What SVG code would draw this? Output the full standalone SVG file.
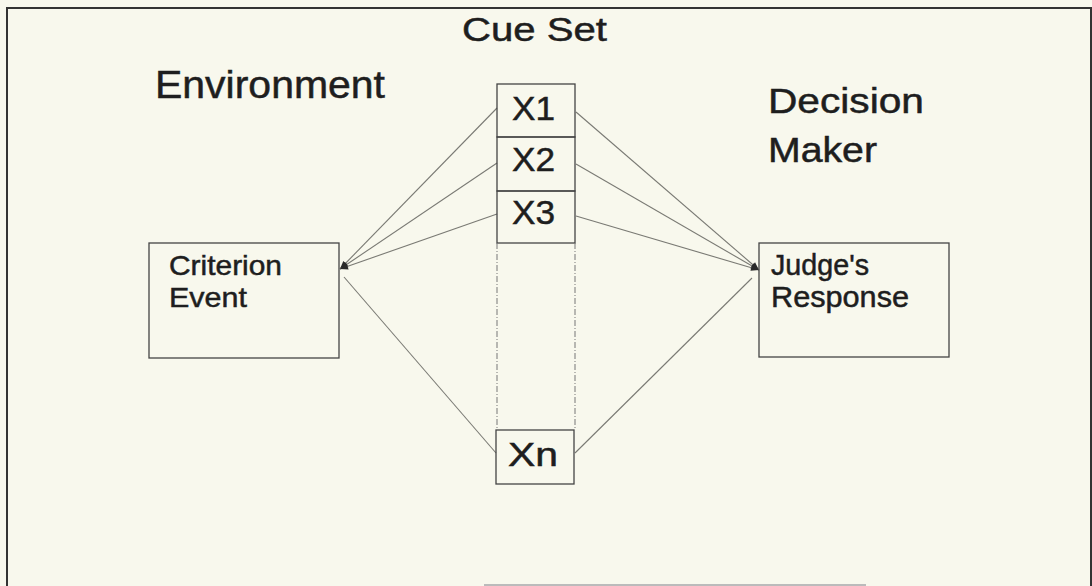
<svg xmlns="http://www.w3.org/2000/svg" width="1092" height="586" viewBox="0 0 1092 586">
  <defs>
    <marker id="ah" viewBox="0 0 10 10" refX="10" refY="5" markerWidth="9" markerHeight="8" markerUnits="userSpaceOnUse" orient="auto">
      <path d="M0,1 L10,5 L0,9 Z" fill="#2a2a2a"/>
    </marker>
    <style>
      .t { font-family: "Liberation Sans", Arial, Helvetica, sans-serif; fill: #1e1e1e; stroke: #1e1e1e; stroke-width: 0.5; }
      .box { fill: none; stroke: #444; stroke-width: 1.3; }
      .cue { fill: none; stroke: #444; stroke-width: 1.3; }
      .con { stroke: #7a7a74; stroke-width: 1.1; fill: none; }
      .arr { marker-end: url(#ah); }
      .dash { stroke: #777; stroke-width: 1; stroke-dasharray: 6 2 1 2; fill: none; }
    </style>
  </defs>
  <rect x="0" y="0" width="1092" height="586" fill="#f8f8ed"/>
  <!-- outer frame -->
  <g id="frame" fill="none">
    <path d="M7,586 L7,8 L1091,8 L1091,586" stroke="#333" stroke-width="2"/>
    <line x1="484" y1="585" x2="866" y2="585" stroke="#bbb" stroke-width="2"/>
  </g>

  <!-- titles -->
  <g id="title-environment"><text class="t" x="155" y="98" font-size="39" textLength="230" lengthAdjust="spacingAndGlyphs">Environment</text></g>
  <g id="title-cueset"><text class="t" x="462" y="41" font-size="34" textLength="145" lengthAdjust="spacingAndGlyphs">Cue Set</text></g>
  <g id="title-decisionmaker">
    <text class="t" x="768" y="113" font-size="35" textLength="156" lengthAdjust="spacingAndGlyphs">Decision</text>
    <text class="t" x="768" y="162" font-size="35" textLength="109" lengthAdjust="spacingAndGlyphs">Maker</text>
  </g>

  <!-- connectors -->
  <g id="connectors">
    <line class="con arr" x1="497" y1="108" x2="340" y2="269"/>
    <line class="con arr" x1="497" y1="163" x2="340" y2="269"/>
    <line class="con arr" x1="497" y1="214" x2="340" y2="269"/>
    <line class="con" x1="496" y1="453" x2="344" y2="277"/>
    <line class="con arr" x1="576" y1="112" x2="759" y2="270"/>
    <line class="con arr" x1="576" y1="164" x2="759" y2="270"/>
    <line class="con arr" x1="576" y1="216" x2="759" y2="270"/>
    <line class="con" x1="575" y1="453" x2="752" y2="278"/>
  </g>

  <!-- criterion event -->
  <g id="criterion-event">
    <rect class="box" x="149" y="243" width="190" height="115"/>
    <text class="t" x="169" y="275" font-size="28" textLength="113" lengthAdjust="spacingAndGlyphs">Criterion</text>
    <text class="t" x="169" y="307" font-size="28" textLength="78" lengthAdjust="spacingAndGlyphs">Event</text>
  </g>

  <!-- judge's response -->
  <g id="judges-response">
    <rect class="box" x="759" y="243" width="190" height="114"/>
    <text class="t" x="771" y="275" font-size="29" textLength="98" lengthAdjust="spacingAndGlyphs">Judge's</text>
    <text class="t" x="771" y="307" font-size="29" textLength="138" lengthAdjust="spacingAndGlyphs">Response</text>
  </g>

  <!-- cue set -->
  <g id="cue-x1">
    <rect class="cue" x="497" y="84" width="78" height="53"/>
    <text class="t" x="512" y="120" font-size="34" textLength="43" lengthAdjust="spacingAndGlyphs">X1</text>
  </g>
  <g id="cue-x2">
    <rect class="cue" x="497" y="137" width="78" height="54"/>
    <text class="t" x="512" y="171" font-size="34" textLength="43" lengthAdjust="spacingAndGlyphs">X2</text>
  </g>
  <g id="cue-x3">
    <rect class="cue" x="497" y="191" width="78" height="52"/>
    <text class="t" x="512" y="224" font-size="34" textLength="43" lengthAdjust="spacingAndGlyphs">X3</text>
  </g>
  <g id="cue-column">
    <line class="dash" x1="497" y1="243" x2="497" y2="430"/>
    <line class="dash" x1="575" y1="243" x2="575" y2="430"/>
  </g>
  <g id="cue-xn">
    <rect class="cue" x="496" y="430" width="78" height="54"/>
    <text class="t" x="508" y="466" font-size="34" textLength="50" lengthAdjust="spacingAndGlyphs">Xn</text>
  </g>
</svg>
